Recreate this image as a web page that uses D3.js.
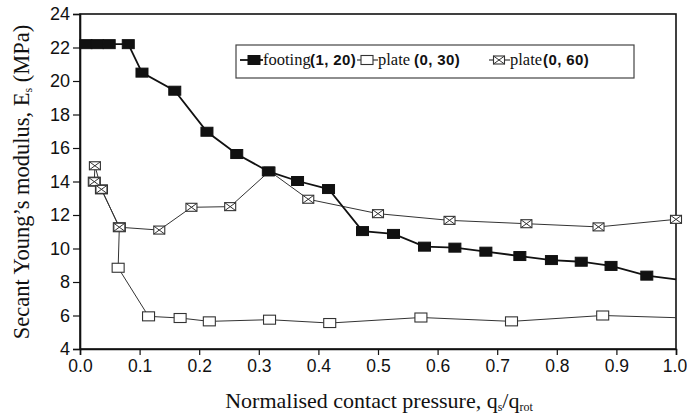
<!DOCTYPE html>
<html>
<head>
<meta charset="utf-8">
<script src="https://cdn.jsdelivr.net/npm/d3@7"></script>
<style>
  html, body { margin: 0; padding: 0; background: #fff; }
  svg { display: block; }
</style>
</head>
<body>
<svg id="chart" width="687" height="418"></svg>
<script>
// Secant Young's modulus vs normalised contact pressure
const xTicks = [0.0, 0.1, 0.2, 0.3, 0.4, 0.5, 0.6, 0.7, 0.8, 0.9, 1.0];
const yTicks = [4, 6, 8, 10, 12, 14, 16, 18, 20, 22, 24];

const footingX = [0.010, 0.029, 0.049, 0.081, 0.104, 0.159, 0.213, 0.263, 0.316, 0.365, 0.417, 0.474, 0.526, 0.578, 0.629, 0.681, 0.738, 0.791, 0.841, 0.891, 0.951, 1.0];
const footingY = [22.2, 22.2, 22.2, 22.2, 20.5, 19.42, 16.97, 15.64, 14.6, 14.03, 13.55, 11.04, 10.87, 10.11, 10.05, 9.81, 9.55, 9.31, 9.21, 8.96, 8.38, 8.16];

const plate30X = [0.024, 0.036, 0.066, 0.064, 0.115, 0.168, 0.217, 0.318, 0.419, 0.572, 0.724, 0.877, 1.0];
const plate30Y = [13.99, 13.53, 11.27, 8.85, 5.95, 5.85, 5.65, 5.75, 5.55, 5.88, 5.65, 6.0, 5.87];

const plate60X = [0.024, 0.025, 0.036, 0.066, 0.133, 0.187, 0.252, 0.318, 0.383, 0.500, 0.620, 0.749, 0.870, 1.0];
const plate60Y = [13.99, 14.94, 13.53, 11.27, 11.1, 12.46, 12.5, 14.62, 12.94, 12.08, 11.68, 11.48, 11.29, 11.74];

const seriesNames = ["footing", "plate", "plate"];
const seriesParams = ["(1, 20)", "(0, 30)", "(0, 60)"];

(function () {
const svg = d3.select("#chart");
const mLeft = 80, mRight = 676, mTop = 14, mBottom = 349;

const x = d3.scaleLinear().domain([0, 1]).range([mLeft, mRight]);
const y = d3.scaleLinear().domain([4, 24]).range([mBottom, mTop]);

// frame
svg.append("rect")
  .attr("x", mLeft).attr("y", mTop)
  .attr("width", mRight - mLeft).attr("height", mBottom - mTop)
  .attr("fill", "none").attr("stroke", "#111").attr("stroke-width", 1.6);

// axes
const tickFont = "'Liberation Sans', Arial, sans-serif";
const xAxis = svg.append("g")
  .attr("transform", `translate(0,${mBottom})`)
  .call(d3.axisBottom(x).tickValues(xTicks).tickFormat(d3.format(".1f")).tickSize(6).tickPadding(5));
const yAxis = svg.append("g")
  .attr("transform", `translate(${mLeft},0)`)
  .call(d3.axisLeft(y).tickValues(yTicks).tickFormat(d3.format("d")).tickSize(7).tickPadding(3));
[xAxis, yAxis].forEach(g => {
  g.select(".domain").attr("stroke", "#111").attr("stroke-width", 1.6);
  g.selectAll(".tick line").attr("stroke", "#111").attr("stroke-width", 1.2);
  g.selectAll(".tick text")
    .attr("fill", "#111")
    .style("font-family", tickFont)
    .style("font-size", "18px");
});
xAxis.selectAll(".tick text").style("font-size", "17.5px")
  .filter(d => d === 1).attr("dx", -1.5);

// axis titles
const serif = "'Liberation Serif', 'Times New Roman', serif";
const yTitle = svg.append("text")
  .attr("transform", "translate(29,182) rotate(-90)")
  .attr("text-anchor", "middle")
  .style("font-family", serif).style("font-size", "22.5px").attr("fill", "#111");
yTitle.append("tspan").text("Secant Young\u2019s modulus, E");
yTitle.append("tspan").attr("dy", 3).style("font-size", "12px").text("s");
yTitle.append("tspan").attr("dy", -3).text(" (MPa)");

const xTitle = svg.append("text")
  .attr("x", 379).attr("y", 408)
  .attr("text-anchor", "middle")
  .style("font-family", serif).style("font-size", "22px").attr("fill", "#111");
xTitle.append("tspan").text("Normalised contact pressure, q");
xTitle.append("tspan").attr("dy", 3).style("font-size", "12px").text("s");
xTitle.append("tspan").attr("dy", -3).text("/q");
xTitle.append("tspan").attr("dy", 3).style("font-size", "12px").text("rot");

// markers
const MW = 12, MH = 9;
function drawMarker(g, cx, cy, kind) {
  if (kind === "filled") {
    g.append("rect").attr("x", cx - MW / 2).attr("y", cy - MH / 2)
      .attr("width", MW).attr("height", MH).attr("fill", "#111").attr("stroke", "#111");
  } else if (kind === "open") {
    g.append("rect").attr("x", cx - MW / 2).attr("y", cy - MH / 2)
      .attr("width", MW).attr("height", MH).attr("fill", "#fff").attr("stroke", "#333").attr("stroke-width", 1.1);
  } else {
    const w = MW - 1, h = MH - 1;
    g.append("rect").attr("x", cx - w / 2).attr("y", cy - h / 2)
      .attr("width", w).attr("height", h).attr("fill", "#fff").attr("stroke", "#333").attr("stroke-width", 1.1);
    g.append("path")
      .attr("d", `M${cx - w / 2},${cy - h / 2}L${cx + w / 2},${cy + h / 2}M${cx + w / 2},${cy - h / 2}L${cx - w / 2},${cy + h / 2}`)
      .attr("stroke", "#333").attr("stroke-width", 1);
  }
}

const line = d3.line().x(d => x(d[0])).y(d => y(d[1]));

const series = [
  { xs: plate30X, ys: plate30Y, kind: "open", width: 1, color: "#333", endMarker: false },
  { xs: plate60X, ys: plate60Y, kind: "cross", width: 1, color: "#333", endMarker: true },
  { xs: footingX, ys: footingY, kind: "filled", width: 1.8, color: "#111", endMarker: false }
];

series.forEach(s => {
  const pts = s.xs.map((v, i) => [v, s.ys[i]]);
  const g = svg.append("g");
  g.append("path").datum(pts).attr("d", line)
    .attr("fill", "none").attr("stroke", s.color).attr("stroke-width", s.width);
  pts.forEach(p => {
    if (p[0] >= 1 && !s.endMarker) return;
    drawMarker(g, x(p[0]), y(p[1]), s.kind);
  });
});

// legend
const legend = svg.append("g");
legend.append("rect").attr("x", 236).attr("y", 45).attr("width", 398).attr("height", 33)
  .attr("fill", "#fff").attr("stroke", "#444").attr("stroke-width", 1.2);
const legendItems = [
  { kind: "filled", x0: 240, x1: 263, mx: 254, tx: 263, px: 310, w: 1.8 },
  { kind: "open", x0: 357, x1: 378, mx: 367, tx: 378, px: 414, w: 1 },
  { kind: "cross", x0: 489, x1: 510, mx: 499, tx: 510, px: 543, w: 1 }
];
const ly = 60;
legendItems.forEach((it, i) => {
  legend.append("line").attr("x1", it.x0).attr("x2", it.x1).attr("y1", ly).attr("y2", ly)
    .attr("stroke", "#111").attr("stroke-width", it.w);
  drawMarker(legend, it.mx, ly, it.kind);
  legend.append("text").attr("x", it.tx).attr("y", ly + 5).attr("fill", "#111")
    .style("font-family", serif).style("font-size", "16.5px").text(seriesNames[i]);
  legend.append("text").attr("x", it.px).attr("y", ly + 5).attr("fill", "#111")
    .style("font-family", tickFont).style("font-weight", "bold").style("font-size", "15px")
    .style("letter-spacing", "0.4px")
    .text(seriesParams[i]);
});
})();
</script>
</body>
</html>
